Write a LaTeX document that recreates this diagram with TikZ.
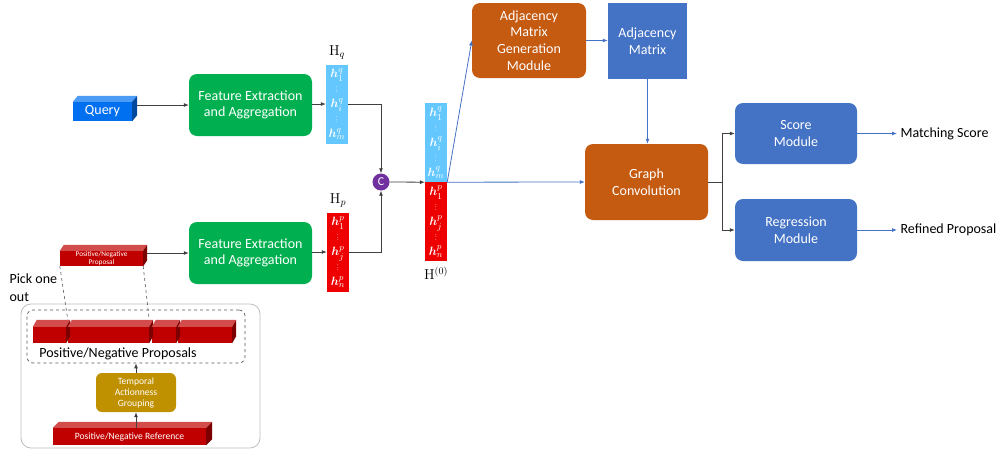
\documentclass[tikz,border=0pt]{standalone}
\usepackage{amsmath}
\usepackage{amssymb}
\usepackage{bm}
\usepackage[no-math]{fontspec}
\setmainfont{Carlito}
\usetikzlibrary{arrows.meta,calc}

\definecolor{qblue}{RGB}{0,112,240}
\definecolor{pred}{RGB}{192,0,0}
\definecolor{fgreen}{RGB}{0,176,80}
\definecolor{hqblue}{RGB}{100,200,255}
\definecolor{hpred}{RGB}{238,0,0}
\definecolor{cpurple}{RGB}{112,48,160}
\definecolor{morange}{RGB}{197,90,17}
\definecolor{mblue}{RGB}{68,114,196}
\definecolor{tgold}{RGB}{191,144,0}
\definecolor{lgray}{RGB}{190,190,190}

% top and side faces of a flat 3D bar
\newcommand{\slabfaces}[4]{%
  \fill[#2!70!white] (#1.north west) -- ++(#3,-#4) -- ($(#1.north east)+(#3,-#4)$) -- (#1.north east) -- cycle;
  \fill[#2!65!black] (#1.north east) -- ++(#3,-#4) -- ($(#1.south east)+(#3,-#4)$) -- (#1.south east) -- cycle;}
% small dots between the feature entries
\newcommand{\vdt}{\hbox{\fontsize{6}{6}\selectfont.}}
\newcommand{\vd}{\vbox{\baselineskip=2.6pt\lineskiplimit=-10pt\vdt\vdt\vdt}}

\tikzset{
  arr/.style={-{Latex[length=5pt,width=4pt]}, line width=0.8pt, black!75},
  barr/.style={-{Latex[length=5pt,width=4pt]}, line width=0.8pt, mblue},
  module/.style={rounded corners=8pt, fill=#1, text=white, align=center,
    minimum width=123pt, minimum height=62pt, inner sep=2pt,
    font=\fontsize{14}{16.7}\selectfont},
  hcol/.style={fill=#1, text=white, align=center, inner sep=0pt,
    minimum width=22pt, minimum height=79pt, font=\fontsize{13}{15}\selectfont},
  slab/.style={fill=#1, text=white, align=center, inner sep=0pt},
  lbl/.style={font=\fontsize{14}{16}\selectfont}
}

\begin{document}
\begin{tikzpicture}[x=1pt,y=-1pt]
\useasboundingbox (0,0) rectangle (1005,453);

% query branch
\node[slab=qblue, minimum width=59pt, minimum height=19pt, font=\fontsize{14}{15}\selectfont] (query) at (102.5,111.5) {Query};
\slabfaces{query}{qblue}{5}{6}
\node[module=fgreen] (fe1) at (250.5,105) {Feature Extraction\\and Aggregation};
\node[hcol=hqblue] (hq) at (337,104) {$\bm{h}^q_1$\\\vd\\$\bm{h}^q_i$\\\vd\\$\bm{h}^q_m$};
\node[lbl, anchor=south] (hqlbl) at ([yshift=1pt]hq.north) {$\mathrm{H}_q$};

% proposal branch
\node[module=fgreen] (fe2) at (250.5,253) {Feature Extraction\\and Aggregation};
\node[hcol=hpred] (hp) at (338,252) {$\bm{h}^p_1$\\\vd\\$\bm{h}^p_j$\\\vd\\$\bm{h}^p_n$};
\node[lbl, anchor=south] (hplbl) at ([yshift=1pt]hp.north) {$\mathrm{H}_p$};

% left panel
\node[draw=lgray, line width=0.8pt, rounded corners=10pt, minimum width=239pt, minimum height=144pt] (panel) at (140.5,376) {};
\node[draw=black!65, dashed, line width=0.7pt, rounded corners=6pt, minimum width=218pt, minimum height=53pt] (props) at (136,336.5) {};
\node[slab=pred, minimum width=83pt, minimum height=15pt, font=\fontsize{7.3}{8.5}\selectfont] (prop) at (101.5,258.5) {Positive/Negative\\Proposal};
\slabfaces{prop}{pred}{4}{6}
\node[slab=pred, minimum width=33pt, minimum height=16pt] (s1) at (49.5,335) {};
\node[slab=pred, minimum width=81pt, minimum height=16pt] (s2) at (108.5,335) {};
\node[slab=pred, minimum width=24pt, minimum height=16pt] (s3) at (164,335) {};
\node[slab=pred, minimum width=54pt, minimum height=16pt] (s4) at (205,335) {};
\slabfaces{s1}{pred}{4}{7}
\slabfaces{s2}{pred}{4}{7}
\slabfaces{s3}{pred}{4}{7}
\slabfaces{s4}{pred}{4}{7}
\draw[dashed, black!65, line width=0.6pt] (prop.south west) -- ([shift={(0,-7)}]s2.north west);
\draw[dashed, black!65, line width=0.6pt] (prop.south east) -- ([shift={(0,-7)}]s2.north east);
\node[font=\fontsize{14}{15}\selectfont] (propstxt) at (118,354) {Positive/Negative Proposals};
\node[fill=tgold, rounded corners=6pt, text=white, align=center, minimum width=80pt, minimum height=39pt, inner sep=1pt,
  font=\fontsize{9.6}{11}\selectfont] (tag) at (136,392.5) {Temporal\\Actionness\\Grouping};
\node[slab=pred, minimum width=153pt, minimum height=17pt, font=\fontsize{9.6}{10}\selectfont] (ref) at (129.5,436.5) {Positive/Negative Reference};
\slabfaces{ref}{pred}{6}{6}
\node[anchor=north west, align=left, font=\fontsize{14}{18}\selectfont] (pick) at (6,270) {Pick one\\out};

\draw[arr] (ref.north -| tag.south) -- (tag.south);
\draw[arr] (tag.north) -- (props.south -| tag.north);
\draw[arr] ([xshift=5pt]query.east |- fe1.west) -- (fe1.west);
\draw[arr] ([xshift=4pt]prop.east |- fe2.west) -- (fe2.west);
\draw[arr] (fe1.east |- hq.west) -- (hq.west);
\draw[arr] (fe2.east |- hp.west) -- (hp.west);

% concatenation
\node[circle, fill=cpurple, text=white, minimum size=17pt, inner sep=0pt, font=\fontsize{12}{12}\selectfont] (cat) at (381,182) {C};
\draw[arr] (hq.east) -| (cat.north);
\draw[arr] (hp.east) -| (cat.south);
\node[hcol=hqblue] (h0q) at (436,142.5) {$\bm{h}^q_1$\\\vd\\$\bm{h}^q_i$\\\vd\\$\bm{h}^q_m$};
\node[hcol=hpred] (h0p) at (436,221.5) {$\bm{h}^p_1$\\\vd\\$\bm{h}^p_j$\\\vd\\$\bm{h}^p_n$};
\node[lbl, anchor=north] (h0lbl) at ([yshift=-2pt]h0p.south) {$\mathrm{H}^{(0)}$};
\draw[arr] (cat.east) -- (h0q.south west);

% graph part
\node[module=morange, minimum width=114pt, minimum height=75pt] (amg) at (529,40.5) {Adjacency\\Matrix\\Generation\\Module};
\node[fill=mblue, text=white, align=center, minimum width=79pt, minimum height=76pt,
  font=\fontsize{14}{16.7}\selectfont] (adj) at (647.5,41) {Adjacency\\Matrix};
\node[module=morange, minimum height=76pt] (gc) at (646.5,182) {Graph\\Convolution};
\node[module=mblue, minimum width=122pt, minimum height=61pt] (score) at (796,133.5) {Score\\Module};
\node[module=mblue, minimum width=122pt, minimum height=62pt] (reg) at (796,230) {Regression\\Module};
\node[anchor=west, font=\fontsize{14}{15}\selectfont] (match) at (897,133.5) {Matching Score};
\node[anchor=west, font=\fontsize{14}{15}\selectfont] (refined) at (897,230) {Refined Proposal};

\draw[barr] (h0q.south east) -- (amg.west);
\draw[barr] (h0q.south east) -- (gc.west);
\draw[barr] (amg.east) -- (adj.west |- amg.east);
\draw[barr] (adj.south) -- (gc.north -| adj.south);
\draw[arr] (gc.east) -- ++(14,0) |- (score.west);
\draw[arr] (gc.east) -- ++(14,0) |- (reg.west);
\draw[barr] (score.east) -- (match.west);
\draw[barr] (reg.east) -- (refined.west);
\end{tikzpicture}
\end{document}
